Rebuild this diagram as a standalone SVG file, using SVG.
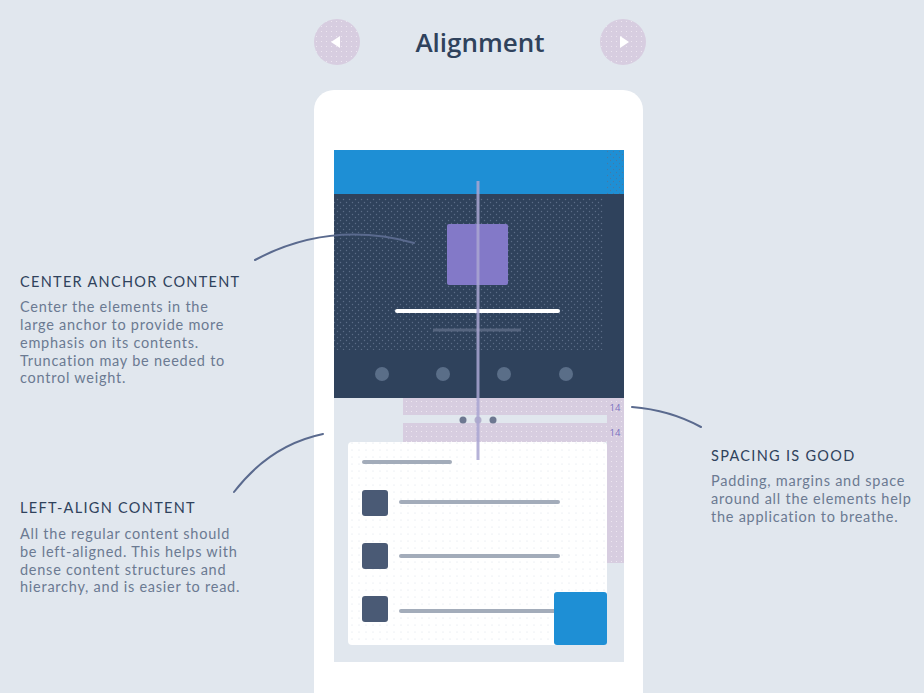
<svg xmlns="http://www.w3.org/2000/svg" width="924" height="693" viewBox="0 0 924 693">
<style>
.title{font-family:"Open Sans","Liberation Sans",sans-serif;font-size:26px;font-weight:600;fill:#2f425c}
.h{font-family:"Lato","Liberation Sans",sans-serif;font-size:14.5px;letter-spacing:1.3px;fill:#2f425c}
.b{font-family:"Lato","Liberation Sans",sans-serif;font-size:14.5px;letter-spacing:0.75px;fill:#6b7a92}
.num{font-family:"Open Sans","Liberation Sans",sans-serif;font-size:9.5px;fill:#7b72c0}
.conn{fill:none;stroke:#5a6a8e;stroke-width:2;stroke-linecap:round}
.gline{stroke:#a3acba;stroke-width:4;stroke-linecap:round}
.sq{fill:#4a5a75}
.dot{fill:#5a6e88}
</style>
<defs>
<pattern id="dk" width="6" height="6" patternUnits="userSpaceOnUse"><circle cx="1.5" cy="1.5" r="0.7" fill="#5b6c88"/><circle cx="4.5" cy="4.5" r="0.7" fill="#5b6c88"/></pattern>
<pattern id="pp" width="5" height="5" patternUnits="userSpaceOnUse"><rect width="5" height="5" fill="#d7cde0"/><circle cx="1.5" cy="1.5" r="0.6" fill="#f0ebf3"/></pattern>
<pattern id="wd" width="7" height="7" patternUnits="userSpaceOnUse"><rect width="7" height="7" fill="#ffffff"/><circle cx="2" cy="2" r="0.6" fill="#dde2ea"/></pattern>
</defs>
<rect width="924" height="693" fill="#e1e7ee"/>
<g id="nav-prev"><circle cx="337" cy="42" r="23" fill="url(#pp)"/><polygon points="331,42 340,36 340,48" fill="#ffffff"/></g>
<g id="nav-next"><circle cx="623" cy="42" r="23" fill="url(#pp)"/><polygon points="629,42 620,36 620,48" fill="#ffffff"/></g>
<g id="title"><text class="title" x="480" y="52" text-anchor="middle">Alignment</text></g>
<g id="phone">
<rect x="314" y="90" width="329" height="640" rx="20" fill="#ffffff"/>
<rect x="334" y="150" width="290" height="512" fill="#e1e7ee"/>
<rect x="334" y="150" width="290" height="44" fill="#1e8fd5"/>
<rect x="607" y="150" width="17" height="44" fill="url(#dk)" opacity="0.6"/>
<rect x="334" y="194" width="290" height="204" fill="#2f425c"/>
<rect x="334" y="198" width="269" height="152" fill="url(#dk)"/>
<rect x="447" y="224" width="61" height="61" rx="2" fill="#8379c8"/>
<line x1="397" y1="311" x2="558" y2="311" stroke="#ffffff" stroke-width="4" stroke-linecap="round"/>
<line x1="433" y1="330" x2="521" y2="330" stroke="#56657f" stroke-width="3"/>
<circle class="dot" cx="382" cy="374" r="7"/>
<circle class="dot" cx="443" cy="374" r="7"/>
<circle class="dot" cx="504" cy="374" r="7"/>
<circle class="dot" cx="566" cy="374" r="7"/>
</g>
<g id="spacing">
<rect x="403" y="398" width="221" height="17" fill="url(#pp)"/>
<rect x="403" y="423" width="221" height="19" fill="url(#pp)"/>
<rect x="607" y="415" width="17" height="148" fill="url(#pp)"/>
<text class="num" x="615" y="411" text-anchor="middle">14</text>
<text class="num" x="615" y="436" text-anchor="middle">14</text>
<circle cx="463" cy="420" r="3.5" fill="#6d7891"/>
<circle cx="478" cy="420" r="3.5" fill="#b3b0cc"/>
<circle cx="493" cy="420" r="3.5" fill="#6d7891"/>
</g>
<g id="card">
<rect x="348" y="442" width="259" height="203" rx="4" fill="url(#wd)"/>
<line class="gline" x1="364" y1="462" x2="450" y2="462"/>
<rect class="sq" x="362" y="490" width="26" height="26" rx="3"/>
<rect class="sq" x="362" y="543" width="26" height="26" rx="3"/>
<rect class="sq" x="362" y="596" width="26" height="26" rx="3"/>
<line class="gline" x1="401" y1="502" x2="558" y2="502"/>
<line class="gline" x1="401" y1="556" x2="558" y2="556"/>
<line class="gline" x1="401" y1="611" x2="558" y2="611"/>
<rect x="554" y="592" width="53" height="53" rx="3" fill="#1e8fd5"/>
</g>
<g id="guide"><line x1="478" y1="181" x2="478" y2="460" stroke="#aaa6d2" stroke-width="3" opacity="0.85"/></g>
<g id="connectors">
<path class="conn" d="M255,260 Q330,220 414,243"/>
<path class="conn" d="M234,492 Q270,445 323,434"/>
<path class="conn" d="M632,407 Q670,410 701,427"/>
</g>
<g id="note-center">
<text class="h" x="20" y="287">CENTER ANCHOR CONTENT</text>
<text class="b"><tspan x="20" y="312">Center the elements in the</tspan><tspan x="20" y="330">large anchor to provide more</tspan><tspan x="20" y="348">emphasis on its contents.</tspan><tspan x="20" y="366">Truncation may be needed to</tspan><tspan x="20" y="383">control weight.</tspan></text>
</g>
<g id="note-left">
<text class="h" x="20" y="513">LEFT-ALIGN CONTENT</text>
<text class="b"><tspan x="20" y="539">All the regular content should</tspan><tspan x="20" y="557">be left-aligned. This helps with</tspan><tspan x="20" y="575">dense content structures and</tspan><tspan x="20" y="592">hierarchy, and is easier to read.</tspan></text>
</g>
<g id="note-spacing">
<text class="h" x="711" y="461">SPACING IS GOOD</text>
<text class="b"><tspan x="711" y="486">Padding, margins and space</tspan><tspan x="711" y="504">around all the elements help</tspan><tspan x="711" y="522">the application to breathe.</tspan></text>
</g>
</svg>
